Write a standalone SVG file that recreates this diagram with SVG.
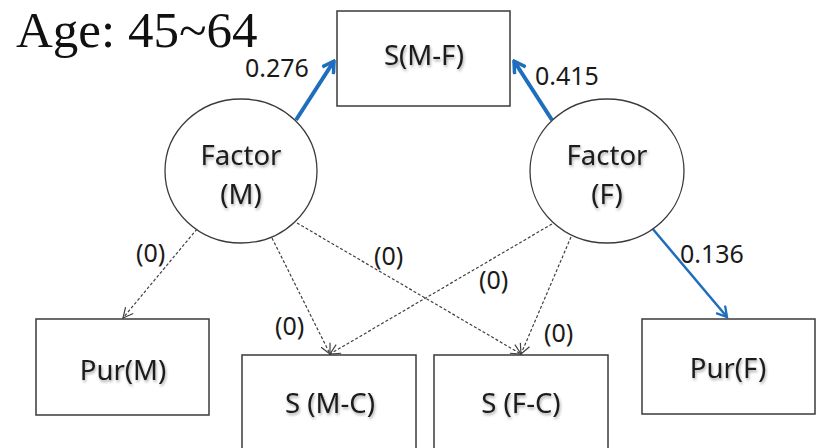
<svg xmlns="http://www.w3.org/2000/svg" width="827" height="448" viewBox="0 0 827 448">
  <style>
    .box { fill: #ffffff; stroke: #3a3a3a; stroke-width: 1.5; }
    .node-label { font-family: "Noto Sans", "Open Sans", sans-serif; font-size: 27.5px; fill: #1a1a1a; text-anchor: middle; }
    .coef { font-family: "Noto Sans", "Open Sans", sans-serif; font-size: 25px; fill: #1a1a1a; }
    .title { font-family: "Liberation Serif", "DejaVu Serif", serif; font-size: 51px; fill: #111111; }
    .dashed { fill: none; stroke: #404040; stroke-width: 1.2; stroke-dasharray: 3 2; marker-end: url(#head-gray); }
    .strong { fill: none; stroke: #1f6dbd; stroke-width: 4; marker-end: url(#head-blue); }
    .medium { fill: none; stroke: #1f6dbd; stroke-width: 2.5; marker-end: url(#head-blue-s); }
  </style>
  <defs>
    <marker id="head-gray" viewBox="0 0 12 12" refX="11" refY="6" markerWidth="12" markerHeight="12" markerUnits="userSpaceOnUse" orient="auto">
      <path d="M1,1 L11,6 L1,11" fill="none" stroke="#404040" stroke-width="1.2"/>
    </marker>
    <marker id="head-blue" viewBox="0 0 12 12" refX="10.5" refY="6" markerWidth="16" markerHeight="16" markerUnits="userSpaceOnUse" orient="auto">
      <path d="M2,1 L10.5,6 L2,11" fill="none" stroke="#1f6dbd" stroke-width="2.6" stroke-linejoin="miter"/>
    </marker>
    <marker id="head-blue-s" viewBox="0 0 12 12" refX="10.5" refY="6" markerWidth="14" markerHeight="14" markerUnits="userSpaceOnUse" orient="auto">
      <path d="M2,1 L10.5,6 L2,11" fill="none" stroke="#1f6dbd" stroke-width="2" stroke-linejoin="miter"/>
    </marker>
    <filter id="soft-shadow" x="-10%" y="-20%" width="120%" height="150%">
      <feGaussianBlur in="SourceAlpha" stdDeviation="1.5"/>
      <feOffset dx="1" dy="2" result="blur"/>
      <feComponentTransfer><feFuncA type="linear" slope="0.35"/></feComponentTransfer>
      <feMerge><feMergeNode/><feMergeNode in="SourceGraphic"/></feMerge>
    </filter>
  </defs>

  <rect width="827" height="448" fill="#ffffff"/>

  <text class="title" x="16" y="47">Age: 45~64</text>

  <!-- path links -->
  <g id="connectors">
    <line class="dashed" x1="197" y1="229" x2="123" y2="318"/>
    <line class="dashed" x1="272" y1="238" x2="330" y2="354"/>
    <line class="dashed" x1="297" y1="223" x2="521" y2="354"/>
    <line class="dashed" x1="552" y1="224" x2="330" y2="354"/>
    <line class="dashed" x1="571" y1="237" x2="521" y2="354"/>
    <line class="strong" x1="296" y1="120" x2="334" y2="61"/>
    <line class="strong" x1="552" y1="120" x2="514" y2="61"/>
    <line class="medium" x1="652" y1="228" x2="727" y2="317"/>
    <text class="coef" x="245" y="77">0.276</text>
    <text class="coef" x="535" y="85">0.415</text>
    <text class="coef" x="680" y="263">0.136</text>
    <text class="coef" x="136" y="262">(0)</text>
    <text class="coef" x="275" y="335">(0)</text>
    <text class="coef" x="374" y="265">(0)</text>
    <text class="coef" x="479" y="289">(0)</text>
    <text class="coef" x="544" y="342">(0)</text>
  </g>

  <g id="s-mf">
    <rect class="box" x="337" y="11" width="173" height="95"/>
    <text class="node-label" x="424" y="65" filter="url(#soft-shadow)">S(M-F)</text>
  </g>

  <g id="factor-m">
    <ellipse cx="241" cy="171" rx="76" ry="72" fill="#ffffff" stroke="#3a3a3a" stroke-width="1.3"/>
    <text class="node-label" x="241" y="165" filter="url(#soft-shadow)">Factor</text>
    <text class="node-label" x="241" y="204" filter="url(#soft-shadow)">(M)</text>
  </g>

  <g id="factor-f">
    <ellipse cx="607" cy="171" rx="77" ry="72" fill="#ffffff" stroke="#3a3a3a" stroke-width="1.3"/>
    <text class="node-label" x="607" y="165" filter="url(#soft-shadow)">Factor</text>
    <text class="node-label" x="607" y="204" filter="url(#soft-shadow)">(F)</text>
  </g>

  <g id="pur-m">
    <rect class="box" x="36" y="319" width="173" height="96"/>
    <text class="node-label" x="123" y="380" filter="url(#soft-shadow)">Pur(M)</text>
  </g>

  <g id="s-mc">
    <rect class="box" x="242" y="355" width="174" height="100"/>
    <text class="node-label" x="330" y="413" filter="url(#soft-shadow)">S (M-C)</text>
  </g>

  <g id="s-fc">
    <rect class="box" x="434" y="355" width="174" height="100"/>
    <text class="node-label" x="521" y="413" filter="url(#soft-shadow)">S (F-C)</text>
  </g>

  <g id="pur-f">
    <rect class="box" x="642" y="319" width="173" height="95"/>
    <text class="node-label" x="728" y="378" filter="url(#soft-shadow)">Pur(F)</text>
  </g>
</svg>
